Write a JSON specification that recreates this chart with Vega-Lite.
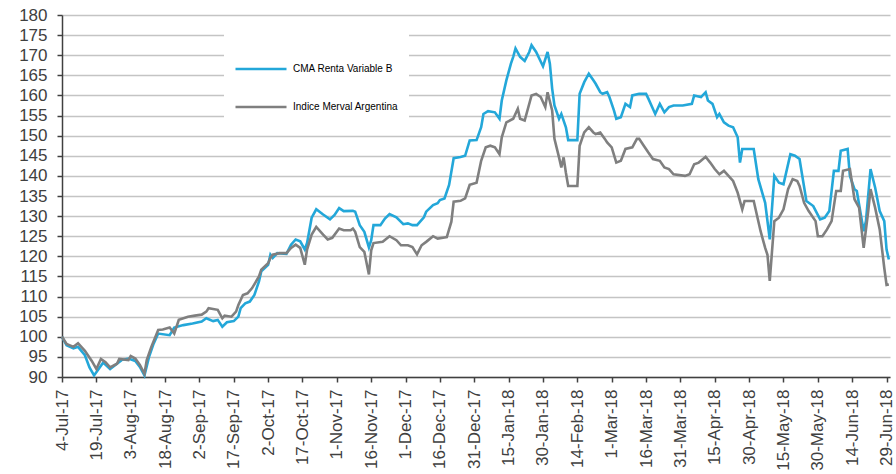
{
  "$schema": "https://vega.github.io/schema/vega-lite/v6.json",
  "autosize": {"type": "none"},
  "padding": {"left": 62, "top": 15, "right": 6, "bottom": 97},
  "width": 828,
  "height": 362,
  "background": "white",
  "config": {"view": {"stroke": null}, "font": "Liberation Sans"},
  "datasets": {
    "cma": [
      {"date": "2017-07-04", "value": 100}, {"date": "2017-07-06", "value": 97.9}, {"date": "2017-07-09", "value": 97.1}, {"date": "2017-07-11", "value": 97.5}, {"date": "2017-07-14", "value": 95.4}, {"date": "2017-07-16", "value": 92.4}, {"date": "2017-07-18", "value": 90.4}, {"date": "2017-07-20", "value": 92}, {"date": "2017-07-22", "value": 93.6}, {"date": "2017-07-25", "value": 92}, {"date": "2017-07-28", "value": 93.3}, {"date": "2017-07-30", "value": 94.2}, {"date": "2017-08-02", "value": 94.6}, {"date": "2017-08-05", "value": 94}, {"date": "2017-08-07", "value": 92.5}, {"date": "2017-08-09", "value": 90.4}, {"date": "2017-08-11", "value": 95}, {"date": "2017-08-13", "value": 98.3}, {"date": "2017-08-15", "value": 100.8}, {"date": "2017-08-20", "value": 100.4}, {"date": "2017-08-22", "value": 102.3}, {"date": "2017-08-26", "value": 102.9}, {"date": "2017-08-30", "value": 103.3}, {"date": "2017-09-03", "value": 103.8}, {"date": "2017-09-05", "value": 104.6}, {"date": "2017-09-08", "value": 103.9}, {"date": "2017-09-10", "value": 104.2}, {"date": "2017-09-12", "value": 102.5}, {"date": "2017-09-14", "value": 103.6}, {"date": "2017-09-17", "value": 103.9}, {"date": "2017-09-19", "value": 105}, {"date": "2017-09-20", "value": 107.1}, {"date": "2017-09-22", "value": 108.3}, {"date": "2017-09-24", "value": 108.75}, {"date": "2017-09-26", "value": 110.4}, {"date": "2017-09-28", "value": 113.75}, {"date": "2017-09-29", "value": 116.25}, {"date": "2017-10-02", "value": 117.9}, {"date": "2017-10-03", "value": 120.4}, {"date": "2017-10-04", "value": 119.6}, {"date": "2017-10-06", "value": 120.8}, {"date": "2017-10-10", "value": 120.6}, {"date": "2017-10-12", "value": 122.9}, {"date": "2017-10-14", "value": 124.2}, {"date": "2017-10-16", "value": 123.75}, {"date": "2017-10-18", "value": 121.7}, {"date": "2017-10-19", "value": 123.3}, {"date": "2017-10-21", "value": 129.6}, {"date": "2017-10-23", "value": 131.7}, {"date": "2017-10-26", "value": 130.4}, {"date": "2017-10-29", "value": 129.2}, {"date": "2017-10-31", "value": 130.3}, {"date": "2017-11-02", "value": 132}, {"date": "2017-11-04", "value": 131.25}, {"date": "2017-11-08", "value": 131.3}, {"date": "2017-11-09", "value": 131.1}, {"date": "2017-11-11", "value": 127.75}, {"date": "2017-11-13", "value": 126.1}, {"date": "2017-11-15", "value": 122.2}, {"date": "2017-11-16", "value": 124}, {"date": "2017-11-17", "value": 127.75}, {"date": "2017-11-20", "value": 127.75}, {"date": "2017-11-22", "value": 129.4}, {"date": "2017-11-24", "value": 130.5}, {"date": "2017-11-27", "value": 129.7}, {"date": "2017-11-30", "value": 128}, {"date": "2017-12-02", "value": 128.2}, {"date": "2017-12-04", "value": 127.75}, {"date": "2017-12-06", "value": 127.75}, {"date": "2017-12-09", "value": 129.7}, {"date": "2017-12-10", "value": 131.1}, {"date": "2017-12-13", "value": 132.75}, {"date": "2017-12-15", "value": 133.2}, {"date": "2017-12-16", "value": 134}, {"date": "2017-12-18", "value": 134.4}, {"date": "2017-12-20", "value": 137.75}, {"date": "2017-12-22", "value": 144.4}, {"date": "2017-12-25", "value": 144.7}, {"date": "2017-12-27", "value": 145}, {"date": "2017-12-29", "value": 148.8}, {"date": "2018-01-01", "value": 148.9}, {"date": "2018-01-03", "value": 152.1}, {"date": "2018-01-04", "value": 155.4}, {"date": "2018-01-06", "value": 156.1}, {"date": "2018-01-09", "value": 155.8}, {"date": "2018-01-11", "value": 154.2}, {"date": "2018-01-12", "value": 158.75}, {"date": "2018-01-14", "value": 163.75}, {"date": "2018-01-16", "value": 167.9}, {"date": "2018-01-17", "value": 169.6}, {"date": "2018-01-18", "value": 171.7}, {"date": "2018-01-20", "value": 169.6}, {"date": "2018-01-22", "value": 168.6}, {"date": "2018-01-24", "value": 170.8}, {"date": "2018-01-25", "value": 172.5}, {"date": "2018-01-27", "value": 170.8}, {"date": "2018-01-30", "value": 167.25}, {"date": "2018-02-01", "value": 170.8}, {"date": "2018-02-02", "value": 167.9}, {"date": "2018-02-03", "value": 161.7}, {"date": "2018-02-04", "value": 157.5}, {"date": "2018-02-06", "value": 154.2}, {"date": "2018-02-07", "value": 155.4}, {"date": "2018-02-09", "value": 152.1}, {"date": "2018-02-10", "value": 148.9}, {"date": "2018-02-14", "value": 148.9}, {"date": "2018-02-15", "value": 160.4}, {"date": "2018-02-17", "value": 163.3}, {"date": "2018-02-19", "value": 165.4}, {"date": "2018-02-21", "value": 163.75}, {"date": "2018-02-22", "value": 162.9}, {"date": "2018-02-24", "value": 160.8}, {"date": "2018-02-25", "value": 160.4}, {"date": "2018-02-27", "value": 160.8}, {"date": "2018-02-28", "value": 159.6}, {"date": "2018-03-02", "value": 156.25}, {"date": "2018-03-03", "value": 154.2}, {"date": "2018-03-05", "value": 154.6}, {"date": "2018-03-07", "value": 157.9}, {"date": "2018-03-09", "value": 157.1}, {"date": "2018-03-10", "value": 160}, {"date": "2018-03-13", "value": 160.4}, {"date": "2018-03-16", "value": 160.4}, {"date": "2018-03-17", "value": 159.2}, {"date": "2018-03-20", "value": 155.4}, {"date": "2018-03-22", "value": 157.9}, {"date": "2018-03-24", "value": 155.8}, {"date": "2018-03-26", "value": 157.1}, {"date": "2018-03-28", "value": 157.5}, {"date": "2018-04-01", "value": 157.5}, {"date": "2018-04-05", "value": 157.9}, {"date": "2018-04-06", "value": 160}, {"date": "2018-04-09", "value": 159.6}, {"date": "2018-04-11", "value": 160.8}, {"date": "2018-04-12", "value": 158.75}, {"date": "2018-04-14", "value": 157.9}, {"date": "2018-04-16", "value": 154.6}, {"date": "2018-04-17", "value": 155.4}, {"date": "2018-04-19", "value": 153.3}, {"date": "2018-04-21", "value": 152.5}, {"date": "2018-04-23", "value": 152.1}, {"date": "2018-04-25", "value": 149.6}, {"date": "2018-04-26", "value": 143.3}, {"date": "2018-04-27", "value": 146.7}, {"date": "2018-05-02", "value": 146.7}, {"date": "2018-05-04", "value": 139.2}, {"date": "2018-05-07", "value": 133.3}, {"date": "2018-05-09", "value": 124.2}, {"date": "2018-05-11", "value": 140}, {"date": "2018-05-13", "value": 138.3}, {"date": "2018-05-15", "value": 137.9}, {"date": "2018-05-18", "value": 145.4}, {"date": "2018-05-20", "value": 145}, {"date": "2018-05-22", "value": 144.2}, {"date": "2018-05-25", "value": 133.75}, {"date": "2018-05-28", "value": 132.5}, {"date": "2018-05-31", "value": 129.2}, {"date": "2018-06-02", "value": 129.6}, {"date": "2018-06-04", "value": 131.25}, {"date": "2018-06-06", "value": 141.25}, {"date": "2018-06-08", "value": 141.25}, {"date": "2018-06-09", "value": 146.25}, {"date": "2018-06-12", "value": 146.7}, {"date": "2018-06-13", "value": 140}, {"date": "2018-06-15", "value": 136.7}, {"date": "2018-06-16", "value": 136.25}, {"date": "2018-06-19", "value": 126.25}, {"date": "2018-06-20", "value": 128.75}, {"date": "2018-06-22", "value": 141.7}, {"date": "2018-06-24", "value": 137.1}, {"date": "2018-06-26", "value": 131.25}, {"date": "2018-06-28", "value": 128.75}, {"date": "2018-06-29", "value": 121.7}, {"date": "2018-06-30", "value": 119.2}
    ],
    "merval": [
      {"date": "2017-07-04", "value": 100}, {"date": "2017-07-06", "value": 98.2}, {"date": "2017-07-09", "value": 97.5}, {"date": "2017-07-11", "value": 98.4}, {"date": "2017-07-14", "value": 96.5}, {"date": "2017-07-17", "value": 94}, {"date": "2017-07-19", "value": 92}, {"date": "2017-07-21", "value": 94.5}, {"date": "2017-07-23", "value": 93.7}, {"date": "2017-07-25", "value": 92.4}, {"date": "2017-07-28", "value": 93.3}, {"date": "2017-07-29", "value": 94.5}, {"date": "2017-08-02", "value": 94.2}, {"date": "2017-08-03", "value": 95.2}, {"date": "2017-08-05", "value": 94.6}, {"date": "2017-08-07", "value": 93}, {"date": "2017-08-09", "value": 90.8}, {"date": "2017-08-10", "value": 94.2}, {"date": "2017-08-12", "value": 97.5}, {"date": "2017-08-15", "value": 101.7}, {"date": "2017-08-17", "value": 101.8}, {"date": "2017-08-20", "value": 102.3}, {"date": "2017-08-22", "value": 100.8}, {"date": "2017-08-24", "value": 104.2}, {"date": "2017-08-28", "value": 105}, {"date": "2017-08-31", "value": 105.25}, {"date": "2017-09-03", "value": 105.5}, {"date": "2017-09-05", "value": 106.25}, {"date": "2017-09-06", "value": 107.1}, {"date": "2017-09-10", "value": 106.7}, {"date": "2017-09-12", "value": 104.6}, {"date": "2017-09-13", "value": 105.25}, {"date": "2017-09-16", "value": 105}, {"date": "2017-09-18", "value": 106.25}, {"date": "2017-09-19", "value": 107.9}, {"date": "2017-09-21", "value": 110.4}, {"date": "2017-09-23", "value": 110.8}, {"date": "2017-09-25", "value": 112.1}, {"date": "2017-09-28", "value": 115}, {"date": "2017-09-29", "value": 116.7}, {"date": "2017-10-02", "value": 118.3}, {"date": "2017-10-03", "value": 119.6}, {"date": "2017-10-04", "value": 120.4}, {"date": "2017-10-07", "value": 120.8}, {"date": "2017-10-10", "value": 120.8}, {"date": "2017-10-12", "value": 122.1}, {"date": "2017-10-14", "value": 122.9}, {"date": "2017-10-16", "value": 122.1}, {"date": "2017-10-18", "value": 117.9}, {"date": "2017-10-19", "value": 121.7}, {"date": "2017-10-21", "value": 125.4}, {"date": "2017-10-23", "value": 127.3}, {"date": "2017-10-26", "value": 125.4}, {"date": "2017-10-28", "value": 124.2}, {"date": "2017-10-30", "value": 124.6}, {"date": "2017-11-02", "value": 126.9}, {"date": "2017-11-04", "value": 126.5}, {"date": "2017-11-07", "value": 126.5}, {"date": "2017-11-08", "value": 126.9}, {"date": "2017-11-09", "value": 126.1}, {"date": "2017-11-11", "value": 122.3}, {"date": "2017-11-13", "value": 121.1}, {"date": "2017-11-15", "value": 115.5}, {"date": "2017-11-16", "value": 121.5}, {"date": "2017-11-17", "value": 123.3}, {"date": "2017-11-21", "value": 123.6}, {"date": "2017-11-24", "value": 125}, {"date": "2017-11-27", "value": 124}, {"date": "2017-11-29", "value": 122.75}, {"date": "2017-12-02", "value": 122.75}, {"date": "2017-12-04", "value": 122.3}, {"date": "2017-12-06", "value": 120.5}, {"date": "2017-12-08", "value": 122.75}, {"date": "2017-12-10", "value": 123.6}, {"date": "2017-12-13", "value": 125}, {"date": "2017-12-15", "value": 124.4}, {"date": "2017-12-18", "value": 124.7}, {"date": "2017-12-19", "value": 124.8}, {"date": "2017-12-21", "value": 128.6}, {"date": "2017-12-22", "value": 133.6}, {"date": "2017-12-25", "value": 133.8}, {"date": "2017-12-27", "value": 134.4}, {"date": "2017-12-29", "value": 137.8}, {"date": "2018-01-01", "value": 138.3}, {"date": "2018-01-03", "value": 143.75}, {"date": "2018-01-05", "value": 147.1}, {"date": "2018-01-07", "value": 147.5}, {"date": "2018-01-09", "value": 147.1}, {"date": "2018-01-11", "value": 145.4}, {"date": "2018-01-12", "value": 149.6}, {"date": "2018-01-14", "value": 153.3}, {"date": "2018-01-17", "value": 154.2}, {"date": "2018-01-19", "value": 156.7}, {"date": "2018-01-20", "value": 154.2}, {"date": "2018-01-22", "value": 153.75}, {"date": "2018-01-25", "value": 160}, {"date": "2018-01-27", "value": 160.4}, {"date": "2018-01-29", "value": 159.6}, {"date": "2018-01-31", "value": 157.1}, {"date": "2018-02-01", "value": 160.8}, {"date": "2018-02-03", "value": 156.25}, {"date": "2018-02-04", "value": 149.2}, {"date": "2018-02-06", "value": 144.6}, {"date": "2018-02-07", "value": 142.1}, {"date": "2018-02-08", "value": 144.6}, {"date": "2018-02-09", "value": 140.8}, {"date": "2018-02-10", "value": 137.5}, {"date": "2018-02-14", "value": 137.5}, {"date": "2018-02-15", "value": 147.5}, {"date": "2018-02-17", "value": 150.8}, {"date": "2018-02-19", "value": 152.1}, {"date": "2018-02-21", "value": 150.8}, {"date": "2018-02-22", "value": 150.4}, {"date": "2018-02-24", "value": 150.8}, {"date": "2018-02-26", "value": 149.2}, {"date": "2018-02-27", "value": 148.3}, {"date": "2018-03-01", "value": 147.1}, {"date": "2018-03-03", "value": 143.3}, {"date": "2018-03-05", "value": 143.75}, {"date": "2018-03-07", "value": 146.7}, {"date": "2018-03-10", "value": 147.1}, {"date": "2018-03-12", "value": 149.2}, {"date": "2018-03-13", "value": 149.2}, {"date": "2018-03-15", "value": 147.5}, {"date": "2018-03-17", "value": 145.8}, {"date": "2018-03-19", "value": 144.2}, {"date": "2018-03-22", "value": 143.75}, {"date": "2018-03-24", "value": 142.1}, {"date": "2018-03-26", "value": 141.7}, {"date": "2018-03-28", "value": 140.4}, {"date": "2018-04-02", "value": 140}, {"date": "2018-04-04", "value": 140.4}, {"date": "2018-04-06", "value": 142.9}, {"date": "2018-04-08", "value": 143.3}, {"date": "2018-04-11", "value": 144.75}, {"date": "2018-04-13", "value": 143.3}, {"date": "2018-04-15", "value": 141.7}, {"date": "2018-04-17", "value": 140.4}, {"date": "2018-04-19", "value": 141.25}, {"date": "2018-04-21", "value": 140}, {"date": "2018-04-23", "value": 138.75}, {"date": "2018-04-25", "value": 135.8}, {"date": "2018-04-27", "value": 131.7}, {"date": "2018-04-28", "value": 133.75}, {"date": "2018-05-02", "value": 133.75}, {"date": "2018-05-05", "value": 126.25}, {"date": "2018-05-07", "value": 122.1}, {"date": "2018-05-08", "value": 120.4}, {"date": "2018-05-09", "value": 113.9}, {"date": "2018-05-11", "value": 128.75}, {"date": "2018-05-13", "value": 129.6}, {"date": "2018-05-15", "value": 131.7}, {"date": "2018-05-17", "value": 136.7}, {"date": "2018-05-19", "value": 139.2}, {"date": "2018-05-21", "value": 138.75}, {"date": "2018-05-22", "value": 137.5}, {"date": "2018-05-24", "value": 133.3}, {"date": "2018-05-26", "value": 131.25}, {"date": "2018-05-29", "value": 128.75}, {"date": "2018-05-30", "value": 125}, {"date": "2018-06-01", "value": 125}, {"date": "2018-06-03", "value": 126.7}, {"date": "2018-06-05", "value": 128.75}, {"date": "2018-06-07", "value": 136.25}, {"date": "2018-06-09", "value": 136.25}, {"date": "2018-06-10", "value": 141.25}, {"date": "2018-06-13", "value": 141.7}, {"date": "2018-06-15", "value": 134.2}, {"date": "2018-06-17", "value": 132.1}, {"date": "2018-06-19", "value": 122.1}, {"date": "2018-06-21", "value": 131.25}, {"date": "2018-06-22", "value": 136.7}, {"date": "2018-06-24", "value": 132.1}, {"date": "2018-06-26", "value": 126.7}, {"date": "2018-06-28", "value": 117.1}, {"date": "2018-06-29", "value": 112.9}, {"date": "2018-06-30", "value": 113}
    ]
  },
  "encoding": {
    "x": {
      "field": "date",
      "type": "temporal",
      "scale": {"type": "utc", "domain": [{"year": 2017, "month": 7, "date": 4, "utc": true}, {"year": 2018, "month": 6, "date": 30, "hours": 12, "utc": true}]},
      "axis": {
        "title": null,
        "grid": false,
        "labelExpr": "utcFormat(datum.value, '%-d-%b-%y')",
        "labelAngle": -90,
        "labelFontSize": 17,
        "labelColor": "#404040",
        "labelPadding": 7,
        "labelOverlap": false,
        "labelFlush": false,
        "domainColor": "#404040",
        "domainWidth": 1.5,
        "tickColor": "#404040",
        "tickWidth": 1.5,
        "tickSize": 5,
        "values": [
          {"year": 2017, "month": 7, "date": 4, "utc": true}, {"year": 2017, "month": 7, "date": 19, "utc": true}, {"year": 2017, "month": 8, "date": 3, "utc": true}, {"year": 2017, "month": 8, "date": 18, "utc": true}, {"year": 2017, "month": 9, "date": 2, "utc": true}, {"year": 2017, "month": 9, "date": 17, "utc": true}, {"year": 2017, "month": 10, "date": 2, "utc": true}, {"year": 2017, "month": 10, "date": 17, "utc": true}, {"year": 2017, "month": 11, "date": 1, "utc": true}, {"year": 2017, "month": 11, "date": 16, "utc": true}, {"year": 2017, "month": 12, "date": 1, "utc": true}, {"year": 2017, "month": 12, "date": 16, "utc": true}, {"year": 2017, "month": 12, "date": 31, "utc": true}, {"year": 2018, "month": 1, "date": 15, "utc": true}, {"year": 2018, "month": 1, "date": 30, "utc": true}, {"year": 2018, "month": 2, "date": 14, "utc": true}, {"year": 2018, "month": 3, "date": 1, "utc": true}, {"year": 2018, "month": 3, "date": 16, "utc": true}, {"year": 2018, "month": 3, "date": 31, "utc": true}, {"year": 2018, "month": 4, "date": 15, "utc": true}, {"year": 2018, "month": 4, "date": 30, "utc": true}, {"year": 2018, "month": 5, "date": 15, "utc": true}, {"year": 2018, "month": 5, "date": 30, "utc": true}, {"year": 2018, "month": 6, "date": 14, "utc": true}, {"year": 2018, "month": 6, "date": 29, "utc": true}
        ]
      }
    },
    "y": {
      "field": "value",
      "type": "quantitative",
      "scale": {"domain": [90, 180], "nice": false, "zero": false},
      "axis": {
        "title": null,
        "values": [90, 95, 100, 105, 110, 115, 120, 125, 130, 135, 140, 145, 150, 155, 160, 165, 170, 175, 180],
        "grid": true,
        "gridColor": "#c4c4c4",
        "gridWidth": 1.5,
        "labelFontSize": 17,
        "labelColor": "#404040",
        "labelPadding": 10,
        "labelOverlap": false,
        "labelFlush": false,
        "domainColor": "#404040",
        "domainWidth": 1.5,
        "tickColor": "#404040",
        "tickWidth": 1.5,
        "tickSize": 5
      }
    }
  },
  "layer": [
    {
      "data": {"name": "cma"},
      "mark": {"type": "line", "strokeWidth": 2.6},
      "encoding": {
        "color": {
          "datum": "CMA Renta Variable B",
          "scale": {"domain": ["CMA Renta Variable B", "Indice Merval Argentina"], "range": ["#23a7d9", "#7f7f7f"]},
          "legend": {
            "title": null,
            "orient": "none",
            "legendX": 162,
            "legendY": 17,
            "direction": "vertical",
            "symbolType": "stroke",
            "symbolSize": 2601,
            "symbolStrokeWidth": 2.5,
            "labelFontSize": 10,
            "labelColor": "#000000",
            "labelOffset": 5,
            "rowPadding": 6,
            "padding": 10,
            "fillColor": "white"
          }
        }
      }
    },
    {
      "data": {"name": "merval"},
      "mark": {"type": "line", "strokeWidth": 2.6},
      "encoding": {"color": {"datum": "Indice Merval Argentina"}}
    }
  ]
}
